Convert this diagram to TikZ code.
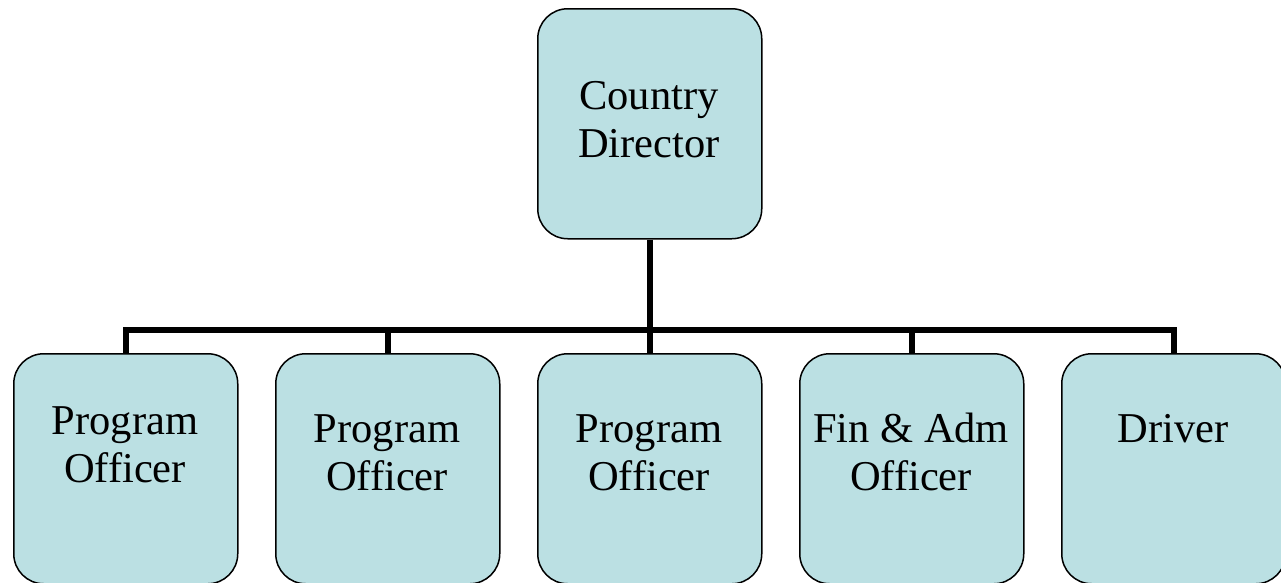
\documentclass[tikz,border=0pt]{standalone}
\usepackage{fontspec}
\setmainfont{Liberation Serif}
\definecolor{boxfill}{RGB}{187,224,227}
\begin{document}
\begin{tikzpicture}[x=1pt,y=-1pt,
  orgbox/.style={draw=black,line width=1.5pt,fill=boxfill,rounded corners=30pt,
    minimum width=224pt,minimum height=230pt,anchor=north west,inner sep=0pt},
  lbl/.style={font=\fontsize{42.5}{48}\selectfont,align=center,anchor=base,inner sep=0pt},
  conn/.style={draw=black,line width=5.5pt}]
\useasboundingbox (0,0) rectangle (1281,582);
\node[orgbox] (cd) at (537,8) {};
\node[orgbox] (po1) at (13,353) {};
\node[orgbox] (po2) at (275,353) {};
\node[orgbox] (po3) at (537,353) {};
\node[orgbox] (fa) at (799,353) {};
\node[orgbox] (dr) at (1061,353) {};
\coordinate (bar) at (649,330);
\draw[conn] (cd.south) -- (po3.north);
\draw[conn] (po1.north) |- (bar) -| (dr.north);
\draw[conn] (po2.north) -- (po2.north |- bar);
\draw[conn] (fa.north) -- (fa.north |- bar);
\node[lbl] (tcd) at (649,157) {Country\\Director};
\node[lbl] (tpo1) at (125,482) {Program\\Officer};
\node[lbl] (tpo2) at (387,490) {Program\\Officer};
\node[lbl] (tpo3) at (649,490) {Program\\Officer};
\node[lbl] (tfa) at (911,490) {Fin \& Adm\\Officer};
\node[lbl] (tdr) at (1173,442) {Driver};
\end{tikzpicture}
\end{document}
